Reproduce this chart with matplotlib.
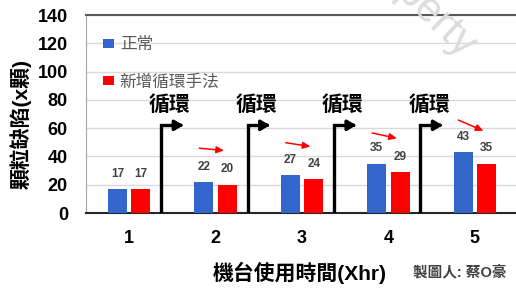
import matplotlib.pyplot as plt
import numpy as np

plt.rcParams['font.family'] = ['Liberation Sans', 'Noto Sans CJK TC', 'DejaVu Sans']

# 資料
categories = ['1', '2', '3', '4', '5']
normal = [17, 22, 27, 35, 43]
cycle = [17, 20, 24, 29, 35]
series_names = ['正常', '新增循環手法']
cycle_text = '循環'
# 紅色趨勢箭頭 (起點值, 終點值), 類別 2~5
trend_start = [46, 50, 57, 66.5]
trend_end = [44, 46.7, 52.4, 57.3]

blue = '#3366CC'
red = '#FF0000'

fig = plt.figure(figsize=(5.16, 2.93), dpi=100)
ax = fig.add_axes([86 / 516, 80 / 293, 432 / 516, 198 / 293])

x = np.arange(1, len(categories) + 1)
w = 0.22
b1 = ax.bar(x - 0.135, normal, w, color=blue, label=series_names[0], zorder=3)
b2 = ax.bar(x + 0.135, cycle, w, color=red, label=series_names[1], zorder=3)

for bars, vals in [(b1, normal), (b2, cycle)]:
    for r, v in zip(bars, vals):
        ax.annotate(str(v), (r.get_x() + r.get_width() / 2, v), xytext=(0, 11),
                    textcoords='offset points', ha='center', va='center',
                    fontsize=8.5, fontweight='bold', color='#404040')

# 黑色 "循環" 折線箭頭
for i in x[:-1]:
    xv = i + 0.37
    ax.plot([xv, xv, xv + 0.2], [0, 62, 62], color='black', lw=2.4,
            solid_capstyle='butt', solid_joinstyle='miter', zorder=4)
    ax.annotate('', xy=(xv + 0.29, 62), xytext=(xv + 0.18, 62),
                arrowprops=dict(arrowstyle='-|>,head_length=0.5,head_width=0.3',
                                color='black', lw=2.4), zorder=4)
    ax.text(i + 0.47, 76, cycle_text, ha='center', va='center', fontsize=15,
            fontweight='bold', color='black')

# 紅色小箭頭
for i, (s, e) in zip(x[1:], zip(trend_start, trend_end)):
    ax.annotate('', xy=(i + 0.13, e), xytext=(i - 0.22, s),
                arrowprops=dict(arrowstyle='-|>,head_length=0.45,head_width=0.2',
                                color=red, lw=1.1))

ax.set_xlim(0.5, 5.5)
ax.set_ylim(0, 140)
ax.set_yticks(np.arange(0, 141, 20))
ax.set_xticks(x)
ax.set_xticklabels(categories)
ax.tick_params(axis='both', length=0, labelsize=13, colors='black')
ax.tick_params(axis='y', pad=13)
ax.tick_params(axis='x', pad=12)
for lab in ax.get_xticklabels() + ax.get_yticklabels():
    lab.set_fontweight('bold')

ax.grid(axis='y', color='#d9d9d9', lw=1, zorder=0)
ax.spines['top'].set_color('#595959')
ax.spines['top'].set_linewidth(1.5)
ax.spines['left'].set_color('#a6a6a6')
ax.spines['bottom'].set_color('#262626')
ax.spines['bottom'].set_linewidth(1.5)
ax.spines['right'].set_visible(False)

ax.set_ylabel('顆粒缺陷(x顆)', fontsize=15, fontweight='bold')
ax.yaxis.set_label_coords(-0.125, 0.447)
ax.set_xlabel('機台使用時間(Xhr)', fontsize=15, fontweight='bold')
ax.xaxis.set_label_coords(0.495, -0.247)

leg = ax.legend(loc='upper left', bbox_to_anchor=(0.02, 0.93), frameon=False,
                borderpad=0, handlelength=0.65, handleheight=0.5, handletextpad=0.35,
                labelspacing=1.3, fontsize=12)
for t in leg.get_texts():
    t.set_color('#595959')

fig.text(413 / 516, 1 - 272 / 293, '製圖人: 蔡O豪', fontsize=10.5, fontweight='bold',
         color='#404040', va='center', ha='left')
fig.text(412 / 516, 1 + 2 / 293, 'Property', fontsize=30, color='#dcdcdc',
         rotation=-44, ha='center', va='center', zorder=0)

fig.savefig('out.png', dpi=100)
